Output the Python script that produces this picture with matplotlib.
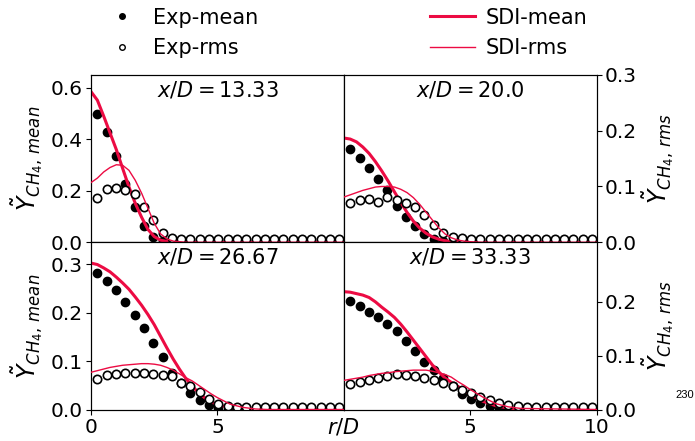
import matplotlib
matplotlib.use('Agg')
import matplotlib.pyplot as plt
from matplotlib.lines import Line2D
from matplotlib.ticker import FormatStrFormatter

# ------------ Data ------------ #

# radial positions of the measurements
r_exp = [0.25, 0.62, 0.99, 1.35, 1.72, 2.09, 2.46, 2.83, 3.19, 3.56, 3.93, 4.30, 4.67, 5.03,
         5.40, 5.77, 6.14, 6.51, 6.87, 7.24, 7.61, 7.98, 8.35, 8.71, 9.08, 9.45, 9.82]

# radial positions of the simulation profiles
r_sdi = [0.0, 0.25, 0.5, 0.75, 1.0, 1.25, 1.5, 1.75, 2.0, 2.25, 2.5, 2.75, 3.0, 3.25, 3.5,
         3.75, 4.0, 4.25, 4.5, 4.75, 5.0, 5.5, 6.0, 6.5, 7.0, 10.0]

stations = ['13.33', '20.0', '26.67', '33.33']

# x/D = 13.33
exp_mean_13 = [0.50, 0.43, 0.335, 0.225, 0.137, 0.064, 0.022, 0.005] + [0.0] * 19
exp_rms_13 = [0.080, 0.096, 0.097, 0.094, 0.087, 0.064, 0.039, 0.016, 0.008] + [0.006] * 18
sdi_mean_13 = [0.585, 0.552, 0.49, 0.425, 0.36, 0.287, 0.215, 0.151, 0.097, 0.05, 0.022, 0.008,
               0.003, 0.001, 0.0, 0.0, 0.0, 0.0, 0.0, 0.0, 0.0, 0.0, 0.0, 0.0, 0.0, 0.0]
sdi_rms_13 = [0.107, 0.115, 0.126, 0.134, 0.139, 0.138, 0.129, 0.111, 0.088, 0.061, 0.034, 0.015,
              0.006, 0.002, 0.001, 0.0, 0.0, 0.0, 0.0, 0.0, 0.0, 0.0, 0.0, 0.0, 0.0, 0.0]

# x/D = 20.0
exp_mean_20 = [0.363, 0.326, 0.29, 0.246, 0.203, 0.142, 0.099, 0.062, 0.032, 0.014, 0.003] + [0.0] * 16
exp_rms_20 = [0.070, 0.076, 0.078, 0.072, 0.081, 0.076, 0.070, 0.064, 0.049, 0.031, 0.016,
              0.009, 0.007] + [0.006] * 14
sdi_mean_20 = [0.405, 0.401, 0.39, 0.37, 0.345, 0.313, 0.277, 0.238, 0.196, 0.155, 0.116, 0.082,
               0.055, 0.035, 0.021, 0.012, 0.006, 0.003, 0.001, 0.0, 0.0, 0.0, 0.0, 0.0, 0.0, 0.0]
sdi_rms_20 = [0.081, 0.085, 0.089, 0.093, 0.096, 0.099, 0.100, 0.100, 0.099, 0.095, 0.089, 0.080,
              0.068, 0.054, 0.040, 0.026, 0.015, 0.008, 0.004, 0.002, 0.001, 0.0, 0.0, 0.0, 0.0, 0.0]

# x/D = 26.67
exp_mean_26 = [0.282, 0.266, 0.246, 0.222, 0.194, 0.168, 0.137, 0.108, 0.076, 0.054, 0.035,
               0.020, 0.009, 0.003] + [0.0] * 13
exp_rms_26 = [0.057, 0.064, 0.066, 0.068, 0.068, 0.067, 0.066, 0.064, 0.063, 0.050, 0.043,
              0.033, 0.019, 0.011, 0.007] + [0.005] * 12
sdi_mean_26 = [0.302, 0.299, 0.292, 0.284, 0.273, 0.261, 0.248, 0.232, 0.215, 0.196, 0.175, 0.151,
               0.127, 0.104, 0.083, 0.064, 0.048, 0.035, 0.024, 0.016, 0.010, 0.004, 0.001, 0.0, 0.0, 0.0]
sdi_rms_26 = [0.069, 0.072, 0.075, 0.078, 0.080, 0.082, 0.083, 0.084, 0.085, 0.085, 0.084, 0.082,
              0.078, 0.073, 0.066, 0.059, 0.053, 0.045, 0.037, 0.029, 0.022, 0.010, 0.004, 0.001, 0.0, 0.0]

# x/D = 33.33
exp_mean_33 = [0.224, 0.213, 0.202, 0.190, 0.177, 0.162, 0.142, 0.121, 0.099, 0.081, 0.066,
               0.049, 0.033, 0.021, 0.013, 0.007, 0.003, 0.001] + [0.0] * 9
exp_rms_33 = [0.047, 0.051, 0.055, 0.059, 0.063, 0.065, 0.064, 0.062, 0.059, 0.054, 0.049,
              0.043, 0.037, 0.031, 0.023, 0.018, 0.012, 0.009, 0.006] + [0.005] * 8
sdi_mean_33 = [0.243, 0.242, 0.239, 0.236, 0.231, 0.222, 0.211, 0.201, 0.190, 0.176, 0.160, 0.143,
               0.126, 0.109, 0.092, 0.078, 0.065, 0.056, 0.048, 0.040, 0.031, 0.017, 0.008, 0.003, 0.001, 0.0]
sdi_rms_33 = [0.054, 0.056, 0.058, 0.060, 0.063, 0.065, 0.067, 0.068, 0.070, 0.071, 0.072, 0.073,
              0.073, 0.073, 0.071, 0.068, 0.065, 0.060, 0.052, 0.045, 0.037, 0.023, 0.011, 0.005, 0.002, 0.0]

exp_mean = [exp_mean_13, exp_mean_20, exp_mean_26, exp_mean_33]
exp_rms = [exp_rms_13, exp_rms_20, exp_rms_26, exp_rms_33]
sdi_mean = [sdi_mean_13, sdi_mean_20, sdi_mean_26, sdi_mean_33]
sdi_rms = [sdi_rms_13, sdi_rms_20, sdi_rms_26, sdi_rms_33]

# ------------ Plot ------------ #

sdi_color = '#ec0b43'
mean_lim = [0.65, 0.345]
rms_lim = [0.3, 0.31]
mean_ticks = [[0.0, 0.2, 0.4, 0.6], [0.0, 0.1, 0.2, 0.3]]
rms_ticks = [[0.0, 0.1, 0.2, 0.3], [0.0, 0.1, 0.2]]

fig = plt.figure(figsize=(6.95, 4.41), dpi=100)
gs = fig.add_gridspec(2, 2, left=0.131, right=0.8585, top=0.830, bottom=0.0714,
                      hspace=0, wspace=0)

for k in range(4):
    row, col = divmod(k, 2)
    ax = fig.add_subplot(gs[row, col])
    ax2 = ax.twinx()

    ax.plot(r_exp, exp_mean[k], 'o', color='k', ms=6, zorder=2)
    ax.plot(r_sdi, sdi_mean[k], '-', color=sdi_color, lw=2.2, zorder=3)
    ax2.plot(r_exp, exp_rms[k], 'o', mfc='white', mec='k', mew=1.2, ms=6, zorder=2)
    ax2.plot(r_sdi, sdi_rms[k], '-', color=sdi_color, lw=1.0, zorder=3)

    ax.set_xlim(0, 10)
    ax.set_ylim(0, mean_lim[row])
    ax2.set_ylim(0, rms_lim[row])
    ax.set_yticks(mean_ticks[row])
    ax2.set_yticks(rms_ticks[row])
    ax.yaxis.set_major_formatter(FormatStrFormatter('%.1f'))
    ax2.yaxis.set_major_formatter(FormatStrFormatter('%.1f'))
    ax.tick_params(labelsize=14.5, pad=2.5)
    ax2.tick_params(labelsize=14.5, pad=2.5)

    if row == 0:
        ax.tick_params(axis='x', length=0, labelbottom=False)
    else:
        ax.set_xticks([0, 5] if col == 0 else [5, 10])

    if col == 0:
        ax2.tick_params(axis='y', length=0, labelright=False)
        ax.set_ylabel(r'$\tilde{Y}_{CH_4,\,mean}$', fontsize=17, labelpad=4)
    else:
        ax.tick_params(axis='y', length=0, labelleft=False)
        ax2.set_ylabel(r'$\tilde{Y}_{CH_4,\,rms}$', fontsize=17, labelpad=2)

    ax.text(0.5, 0.975, r'$x/D = %s$' % stations[k], transform=ax.transAxes,
            ha='center', va='top', fontsize=15)

fig.text(0.4935, 0.032, r'$r/D$', ha='center', va='center', fontsize=15)

exp_handles = [
    Line2D([], [], marker='o', color='k', ls='none', ms=4, label='Exp-mean'),
    Line2D([], [], marker='o', mfc='white', mec='k', mew=1.0, ls='none', ms=4, label='Exp-rms'),
]
sdi_handles = [
    Line2D([], [], color=sdi_color, lw=2.2, label='SDI-mean'),
    Line2D([], [], color=sdi_color, lw=1.0, label='SDI-rms'),
]
fig.legend(handles=exp_handles, loc='upper left', bbox_to_anchor=(0.126, 1.025),
           frameon=False, fontsize=15, handlelength=1.5, handletextpad=0.75,
           labelspacing=0.5)
fig.legend(handles=sdi_handles, loc='upper left', bbox_to_anchor=(0.592, 1.025),
           frameon=False, fontsize=15, handlelength=2.15, handletextpad=0.5,
           labelspacing=0.5)

fig.text(0.972, 0.104, '230', fontsize=8, family='Liberation Sans', va='center')

fig.savefig('out.png', dpi=100)
